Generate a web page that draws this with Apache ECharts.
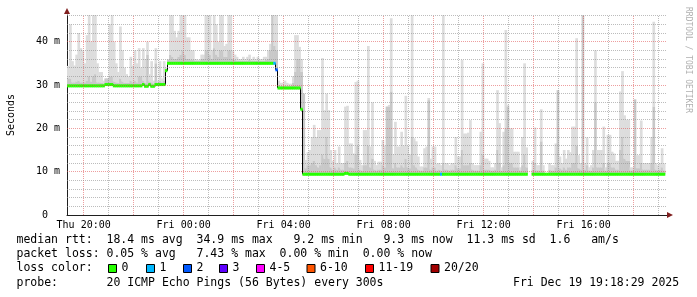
<!DOCTYPE html>
<html><head><meta charset="utf-8">
<script src="https://cdn.jsdelivr.net/npm/echarts@6/dist/echarts.min.js"></script>
<style>html,body{margin:0;padding:0;background:#fff}#c{width:697px;height:297px}</style>
</head><body><div id="c"></div>
<script>
// one probe every 300 s; first slot starts 19:20 Thu (minutes relative to Thu 20:00)
const STEP_MIN = 5;
const START_MIN = -40;

// median rtt per 5-minute slot (ms)
const medianMs = [
29.8,29.8,29.8,29.8,29.8,29.8,29.8,29.8,29.8,29.8,29.8,29.8,29.8,29.8,29.8,29.8,29.8,29.8,30.1,30.1,30.1,30.1,29.8,29.8,
29.8,29.8,29.8,29.8,29.8,29.8,29.8,29.8,29.8,29.8,29.8,29.8,30.1,29.7,29.7,30.1,29.7,29.7,30.1,30.1,30.1,30.1,30.1,33.3,
35.0,35.0,35.0,35.0,35.0,35.0,35.0,35.0,35.0,35.0,35.0,35.0,35.0,35.0,35.0,35.0,35.0,35.0,35.0,35.0,35.0,35.0,35.0,35.0,
35.0,35.0,35.0,35.0,35.0,35.0,35.0,35.0,35.0,35.0,35.0,35.0,35.0,35.0,35.0,35.0,35.0,35.0,35.0,35.0,35.0,35.0,35.0,35.0,
35.0,35.0,35.0,35.0,33.5,29.3,29.3,29.3,29.3,29.3,29.3,29.3,29.3,29.3,29.3,29.3,24.4,9.4,9.4,9.4,9.4,9.4,9.4,9.4,
9.4,9.4,9.4,9.4,9.4,9.4,9.4,9.4,9.4,9.4,9.4,9.4,9.4,9.6,9.6,9.4,9.4,9.4,9.4,9.4,9.4,9.4,9.4,9.4,
9.4,9.4,9.4,9.4,9.4,9.4,9.4,9.4,9.4,9.4,9.4,9.4,9.4,9.4,9.4,9.4,9.4,9.4,9.4,9.4,9.4,9.4,9.4,9.4,
9.4,9.4,9.4,9.4,9.4,9.4,9.4,9.4,9.4,9.4,9.4,9.4,9.4,9.4,9.4,9.4,9.4,9.4,9.4,9.4,9.4,9.4,9.4,9.4,
9.4,9.4,9.4,9.4,9.4,9.4,9.4,9.4,9.4,9.4,9.4,9.4,9.4,9.4,9.4,9.4,9.4,9.4,9.4,9.4,9.4,9.4,9.4,9.4,
9.4,9.4,9.4,9.4,9.4,null,null,9.4,9.4,9.4,9.4,9.4,9.4,9.4,9.4,9.4,9.4,9.4,9.4,9.4,9.4,9.4,9.4,9.4,
9.4,9.4,9.4,9.4,9.4,9.4,9.4,9.4,9.4,9.4,9.4,9.4,9.4,9.4,9.4,9.4,9.4,9.4,9.4,9.4,9.4,9.4,9.4,9.4,
9.4,9.4,9.4,9.4,9.4,9.4,9.4,9.4,9.4,9.4,9.4,9.4,9.4,9.4,9.4,9.4,9.4,9.4,9.4,9.4,9.4,9.4,9.4,null
];

// top of the dense (darker) smoke per slot (ms)
const smokeMidMs = [
31.5,31.5,30.6,30.6,30.8,31.0,30.6,30.6,30.6,31.0,32.0,30.8,32.0,32.5,30.6,30.6,30.5,30.4,31.5,31.5,32.0,32.0,30.8,30.6,
30.5,31.5,30.8,30.5,30.5,30.5,31.0,30.6,31.0,30.6,32.0,32.0,31.0,30.5,37.0,30.8,30.6,30.3,35.0,30.5,31.0,30.6,31.0,33.8,
35.8,37.0,36.5,36.0,36.0,36.5,37.0,38.0,37.0,36.0,36.0,35.8,35.8,35.6,35.6,35.6,36.0,36.0,38.0,38.0,37.0,36.0,38.5,37.0,
36.5,38.0,38.0,36.5,36.5,38.0,38.0,36.0,35.8,35.6,35.6,35.6,35.6,35.6,35.6,35.8,35.6,35.6,35.6,35.6,35.6,35.6,35.6,35.8,
36.0,38.0,46.1,39.0,38.0,30.0,29.8,29.8,29.9,29.8,29.8,29.8,30.5,33.0,36.0,36.0,33.0,28.0,10.8,11.5,11.5,12.0,12.5,11.5,
11.0,11.5,14.0,13.0,18.0,13.0,11.0,10.5,11.0,10.5,11.0,10.5,10.5,12.0,12.5,11.0,11.0,10.8,14.0,16.0,10.5,10.3,11.5,11.5,
16.0,11.0,13.0,10.5,10.3,10.5,10.5,11.5,11.0,25.0,25.0,28.5,10.8,12.0,11.0,11.0,11.5,11.0,13.0,11.0,10.8,18.0,11.5,11.0,
10.5,10.3,10.3,11.0,11.0,26.5,10.5,11.0,11.0,10.3,10.5,10.3,12.0,10.5,10.5,10.3,10.5,10.5,11.5,10.8,10.8,15.0,11.5,11.5,
11.5,12.0,10.5,10.3,10.3,10.3,11.5,14.0,10.5,10.5,10.5,10.3,10.3,10.5,15.0,12.0,10.3,11.5,20.0,25.0,12.0,12.0,11.0,11.0,
11.0,10.3,11.5,14.0,11.0,11.0,12.0,10.5,12.0,10.3,10.3,17.0,10.3,null,null,10.5,10.3,10.3,11.0,28.8,10.8,10.5,11.0,10.5,
11.0,11.0,12.0,12.0,16.0,10.8,10.5,46.1,10.5,11.5,10.3,10.3,11.0,26.0,11.0,11.0,11.0,12.0,10.3,12.0,12.0,11.0,11.0,10.5,
10.5,15.0,18.0,13.0,12.5,12.5,10.3,10.3,26.7,10.8,10.8,12.0,10.5,10.5,10.5,10.5,12.0,25.0,10.5,10.3,10.5,11.0,10.3,null
];

// top of the smoke (slowest ping) per slot (ms)
const smokeMaxMs = [
34.4,44.0,35.5,34.5,37.0,42.0,38.5,38.0,35.0,41.5,46.1,40.0,46.1,46.1,35.0,33.0,33.0,31.0,31.0,31.0,44.0,46.1,40.0,35.0,
33.0,43.5,38.0,34.0,32.5,32.0,36.5,34.5,38.0,35.0,38.5,34.0,38.5,36.0,40.0,32.5,35.5,31.0,38.5,31.0,35.5,31.5,35.5,34.0,
36.0,46.1,46.1,42.5,41.0,42.5,46.1,46.1,46.1,41.0,41.0,38.0,38.0,36.0,35.8,35.8,37.0,37.0,46.1,46.1,46.1,38.0,46.1,44.0,
40.0,46.1,46.1,39.0,39.5,46.1,46.1,38.0,37.0,36.5,36.0,36.0,36.5,36.0,36.5,37.0,36.0,36.5,36.0,36.5,36.0,36.0,36.5,36.5,
38.0,39.5,46.1,46.1,46.1,31.0,30.5,30.5,31.0,30.5,30.3,30.3,32.0,41.5,41.5,38.8,36.0,28.0,12.7,14.5,15.0,18.0,20.8,18.0,
19.6,19.6,36.2,24.2,28.0,24.2,15.0,12.5,15.0,12.0,15.8,12.0,12.0,25.0,25.2,16.5,16.5,14.2,30.7,31.0,12.7,11.5,19.6,19.6,
39.0,15.8,26.0,12.5,11.5,12.3,12.3,17.3,16.0,16.0,25.4,45.4,14.0,21.5,15.8,15.8,19.2,16.0,27.5,16.0,14.0,46.1,17.7,17.0,
13.5,11.2,11.2,15.4,15.8,27.0,13.0,15.8,15.8,11.8,12.0,11.5,46.1,12.0,12.0,11.5,12.0,12.0,18.0,13.5,13.5,35.8,18.8,18.8,
19.0,21.9,12.0,11.5,11.5,11.5,19.2,35.0,13.0,13.0,12.5,11.0,11.0,12.0,28.8,21.2,11.0,19.2,42.7,25.4,20.0,20.0,14.6,14.6,
14.6,11.0,18.0,35.0,15.6,16.5,19.5,12.5,20.2,11.5,11.5,24.4,11.5,null,null,12.0,11.5,11.5,16.5,28.8,13.5,12.0,15.0,13.0,
15.0,14.5,20.4,20.4,40.8,13.8,12.0,46.1,12.0,17.9,11.0,11.5,15.0,38.0,15.0,15.0,15.0,20.4,11.0,18.5,18.5,14.6,14.2,12.5,
12.5,28.5,33.2,23.0,22.0,22.0,11.0,11.0,26.7,13.8,13.8,21.8,12.0,12.0,12.0,12.0,18.0,44.6,12.0,11.5,12.0,15.4,11.9,null
];

// slots with packet loss (index into lossLabels)
const lossSlots = [99, 100, 179];
const lossLevels = [1, 2, 1];
const lossLabels = ['0', '1', '2', '3', '4-5', '6-10', '11-19', '20/20'];
const lossColors = ['#26ff00', '#00b8ff', '#0059ff', '#5e00ff', '#ff00ff', '#ff5500', '#ff0000', '#a10000'];

const xTickTimes = [0, 240, 480, 720, 960, 1200];
const xTickLabels = ['Thu 20:00', 'Fri 00:00', 'Fri 04:00', 'Fri 08:00', 'Fri 12:00', 'Fri 16:00'];
const yTickValues = [0, 10, 20, 30, 40];
const yTickLabels = ['0  ', '10 m', '20 m', '30 m', '40 m'];

const statsLines = [
  'median rtt:  18.4 ms avg  34.9 ms max   9.2 ms min   9.3 ms now  11.3 ms sd  1.6   am/s',
  'packet loss: 0.05 % avg   7.43 % max  0.00 % min  0.00 % now',
  'loss color:',
  'probe:       20 ICMP Echo Pings (56 Bytes) every 300s'
];
const dateText = 'Fri Dec 19 19:18:29 2025';

// ---------- build series tables ----------
const smokeData = [];
const medianData = [];
for (let i = 0; i < medianMs.length; i++) {
  if (medianMs[i] == null) continue;
  const t0 = START_MIN + i * STEP_MIN, t1 = t0 + STEP_MIN;
  smokeData.push([t0, t1, medianMs[i], smokeMidMs[i], smokeMaxMs[i]]);
  const nxt = (i + 1 < medianMs.length && medianMs[i + 1] != null) ? medianMs[i + 1] : medianMs[i];
  const li = lossSlots.indexOf(i);
  medianData.push([t0, t1, medianMs[i], nxt, li >= 0 ? lossLevels[li] : 0]);
}

const MONO = '"DejaVu Sans Mono", monospace';
const RED = 'rgba(222,79,79,0.55)', GRAY = 'rgba(143,143,143,0.6)';

// grid lines: minor every hour / 2 ms, major every 2 hours / 10 ms
const gridLines = [];
for (let t = 0; t <= 1380; t += 60) gridLines.push({xAxis: t, lineStyle: {color: t % 120 === 0 ? RED : GRAY}});
for (let v = 2; v <= 46; v += 2) gridLines.push({yAxis: v, lineStyle: {color: v % 10 === 0 ? RED : GRAY}});

const chart = echarts.init(document.getElementById('c'), null, {renderer: 'canvas'});

const graphics = [];
graphics.push({type: 'polygon', shape: {points: [[64, 14], [70, 14], [67, 8]]}, style: {fill: '#801f1f'}, z: 100});
graphics.push({type: 'polygon', shape: {points: [[667, 212], [667, 218], [673, 215]]}, style: {fill: '#801f1f'}, z: 100});
graphics.push({type: 'text', x: 11, y: 115, rotation: Math.PI / 2,
  style: {text: 'Seconds', font: '10px ' + MONO, fill: '#000', align: 'center', verticalAlign: 'middle'}, z: 100});
graphics.push({type: 'text', x: 688, y: 60, rotation: -Math.PI / 2,
  style: {text: 'RRDTOOL / TOBI OETIKER', font: '8px ' + MONO, fill: '#b0b0b0', align: 'center', verticalAlign: 'middle'}, z: 100});
const lineY = [240.5, 254.5, 268.5, 283];
statsLines.forEach((s, k) => {
  graphics.push({type: 'text', x: 16.5, y: lineY[k],
    style: {text: s, font: '11.5px ' + MONO, fill: '#000', align: 'left', verticalAlign: 'middle'}, z: 100});
});
graphics.push({type: 'text', x: 513, y: lineY[3],
  style: {text: dateText, font: '11.5px ' + MONO, fill: '#000', align: 'left', verticalAlign: 'middle'}, z: 100});
const boxX = [108, 146, 183, 219, 256, 306.5, 365, 430.5];
lossLabels.forEach((lab, k) => {
  graphics.push({type: 'rect', shape: {x: boxX[k] + 0.5, y: 264.5, width: 8, height: 8},
    style: {fill: lossColors[k], stroke: '#000', lineWidth: 1}, z: 100});
  graphics.push({type: 'text', x: boxX[k] + 13.5, y: lineY[2],
    style: {text: lab, font: '11.5px ' + MONO, fill: '#000', align: 'left', verticalAlign: 'middle'}, z: 100});
});

chart.setOption({
  animation: false,
  backgroundColor: '#fff',
  grid: {left: 67, top: 15, width: 600, height: 200, containLabel: false, outerBoundsMode: 'none'},
  xAxis: {
    type: 'value', min: -40, max: 1400, interval: 20,
    axisLine: {show: true, onZero: false, lineStyle: {color: '#1f1f1f', width: 1}},
    axisTick: {show: false},
    axisLabel: {
      show: true, margin: 5, color: '#000', fontFamily: MONO, fontSize: 10,
      showMinLabel: true, showMaxLabel: true, hideOverlap: false,
      formatter: v => { const k = xTickTimes.indexOf(Math.round(v)); return k >= 0 ? xTickLabels[k] : ''; }
    },
    splitLine: {show: false}
  },
  yAxis: {
    type: 'value', min: 0, max: 46.15, interval: 2,
    axisLine: {show: true, onZero: false, lineStyle: {color: '#1f1f1f', width: 1}},
    axisTick: {show: false},
    axisLabel: {
      show: true, margin: 7, color: '#000', fontFamily: MONO, fontSize: 10,
      showMinLabel: true, showMaxLabel: true,
      formatter: v => { const k = yTickValues.indexOf(Math.round(v * 100) / 100); return k >= 0 ? yTickLabels[k] : ''; }
    },
    splitLine: {show: false}
  },
  series: [
    {
      type: 'line', name: 'grid', data: [], silent: true, z: 1,
      markLine: {silent: true, symbol: ['none', 'none'], label: {show: false}, animation: false,
        lineStyle: {type: [1, 1], width: 1}, emphasis: {disabled: true}, data: gridLines}
    },
    {
      type: 'custom', name: 'smoke', clip: true, silent: true, data: smokeData, z: 2,
      encode: {x: [0, 1], y: [2, 3, 4]},
      renderItem: (params, api) => {
        const base = api.coord([api.value(0), api.value(2)]);
        const mid = api.coord([api.value(1), api.value(3)]);
        const top = api.coord([api.value(1), api.value(4)]);
        const w = mid[0] - base[0] + 0.6;
        return {type: 'group', children: [
          {type: 'rect', shape: {x: base[0], y: top[1], width: w, height: mid[1] - top[1]}, style: {fill: '#dddddd'}},
          {type: 'rect', shape: {x: base[0], y: mid[1], width: w, height: base[1] - mid[1]}, style: {fill: '#c8c8c8'}}
        ]};
      }
    },
    {
      type: 'custom', name: 'median', clip: true, silent: true, data: medianData, z: 3,
      encode: {x: [0, 1], y: [2, 3]},
      renderItem: (params, api) => {
        const p0 = api.coord([api.value(0), api.value(2)]);
        const p1 = api.coord([api.value(1), api.value(3)]);
        const children = [];
        if (api.value(3) !== api.value(2)) {
          const xx = Math.round(p1[0]) + 0.5;
          children.push({type: 'line', shape: {x1: xx, y1: p0[1], x2: xx, y2: p1[1]}, style: {stroke: '#000', lineWidth: 1}});
        }
        children.push({type: 'rect', shape: {x: p0[0], y: p0[1] - 1.5, width: p1[0] - p0[0] + 0.4, height: 3},
          style: {fill: lossColors[api.value(4)]}});
        return {type: 'group', children};
      }
    }
  ],
  graphic: graphics
});
</script>
</body></html>
